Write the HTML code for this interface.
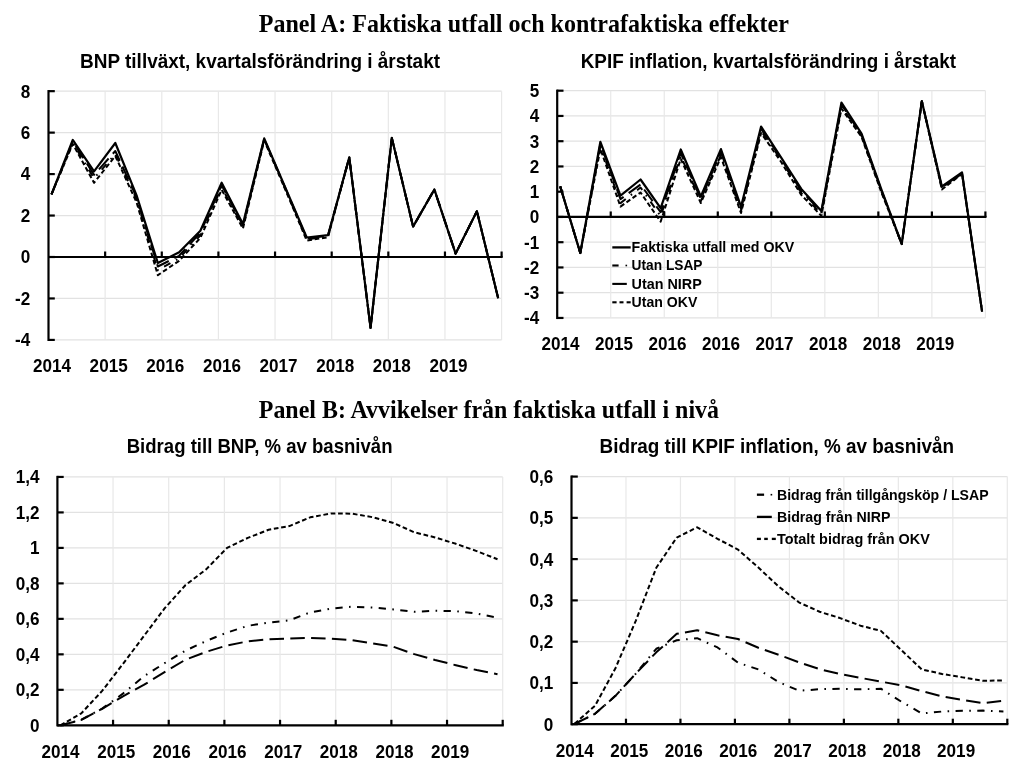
<!DOCTYPE html>
<html><head><meta charset="utf-8"><title>Panel A/B</title>
<style>
html,body{margin:0;padding:0;background:#fff;width:1024px;height:764px;overflow:hidden;}
svg{display:block;will-change:transform;}
text{font-family:"Liberation Sans",sans-serif;font-weight:bold;fill:#000;}
text.serif{font-family:"Liberation Serif",serif;}
</style></head>
<body>
<svg width="1024" height="764" viewBox="0 0 1024 764">
<rect width="1024" height="764" fill="#fff"/>
<line x1="48.5" y1="339.92" x2="501.6" y2="339.92" stroke="#e2e2e2" stroke-width="1.2"/>
<line x1="48.5" y1="298.46" x2="501.6" y2="298.46" stroke="#e2e2e2" stroke-width="1.2"/>
<line x1="48.5" y1="257" x2="501.6" y2="257" stroke="#e2e2e2" stroke-width="1.2"/>
<line x1="48.5" y1="215.54" x2="501.6" y2="215.54" stroke="#e2e2e2" stroke-width="1.2"/>
<line x1="48.5" y1="174.08" x2="501.6" y2="174.08" stroke="#e2e2e2" stroke-width="1.2"/>
<line x1="48.5" y1="132.62" x2="501.6" y2="132.62" stroke="#e2e2e2" stroke-width="1.2"/>
<line x1="48.5" y1="91.16" x2="501.6" y2="91.16" stroke="#e2e2e2" stroke-width="1.2"/>
<line x1="105.14" y1="91.16" x2="105.14" y2="339.92" stroke="#e8e8e8" stroke-width="1.2"/>
<line x1="161.78" y1="91.16" x2="161.78" y2="339.92" stroke="#e8e8e8" stroke-width="1.2"/>
<line x1="218.41" y1="91.16" x2="218.41" y2="339.92" stroke="#e8e8e8" stroke-width="1.2"/>
<line x1="275.05" y1="91.16" x2="275.05" y2="339.92" stroke="#e8e8e8" stroke-width="1.2"/>
<line x1="331.69" y1="91.16" x2="331.69" y2="339.92" stroke="#e8e8e8" stroke-width="1.2"/>
<line x1="388.33" y1="91.16" x2="388.33" y2="339.92" stroke="#e8e8e8" stroke-width="1.2"/>
<line x1="444.96" y1="91.16" x2="444.96" y2="339.92" stroke="#e8e8e8" stroke-width="1.2"/>
<line x1="501.6" y1="91.16" x2="501.6" y2="339.92" stroke="#e8e8e8" stroke-width="1.2"/>
<line x1="48.5" y1="90.06" x2="48.5" y2="341.02" stroke="#000" stroke-width="2.2"/>
<line x1="48.5" y1="339.92" x2="54.8" y2="339.92" stroke="#000" stroke-width="2.2"/>
<line x1="48.5" y1="298.46" x2="54.8" y2="298.46" stroke="#000" stroke-width="2.2"/>
<line x1="48.5" y1="257" x2="54.8" y2="257" stroke="#000" stroke-width="2.2"/>
<line x1="48.5" y1="215.54" x2="54.8" y2="215.54" stroke="#000" stroke-width="2.2"/>
<line x1="48.5" y1="174.08" x2="54.8" y2="174.08" stroke="#000" stroke-width="2.2"/>
<line x1="48.5" y1="132.62" x2="54.8" y2="132.62" stroke="#000" stroke-width="2.2"/>
<line x1="48.5" y1="91.16" x2="54.8" y2="91.16" stroke="#000" stroke-width="2.2"/>
<line x1="48.5" y1="257" x2="502.7" y2="257" stroke="#000" stroke-width="2.2"/>
<line x1="105.14" y1="257" x2="105.14" y2="251.5" stroke="#000" stroke-width="2.2"/>
<line x1="161.78" y1="257" x2="161.78" y2="251.5" stroke="#000" stroke-width="2.2"/>
<line x1="218.41" y1="257" x2="218.41" y2="251.5" stroke="#000" stroke-width="2.2"/>
<line x1="275.05" y1="257" x2="275.05" y2="251.5" stroke="#000" stroke-width="2.2"/>
<line x1="331.69" y1="257" x2="331.69" y2="251.5" stroke="#000" stroke-width="2.2"/>
<line x1="388.33" y1="257" x2="388.33" y2="251.5" stroke="#000" stroke-width="2.2"/>
<line x1="444.96" y1="257" x2="444.96" y2="251.5" stroke="#000" stroke-width="2.2"/>
<line x1="501.6" y1="257" x2="501.6" y2="251.5" stroke="#000" stroke-width="2.2"/>
<text transform="translate(30.2,346.32) scale(0.94,1)" font-size="18.2" text-anchor="end">-4</text>
<text transform="translate(30.2,304.86) scale(0.94,1)" font-size="18.2" text-anchor="end">-2</text>
<text transform="translate(30.2,263.4) scale(0.94,1)" font-size="18.2" text-anchor="end">0</text>
<text transform="translate(30.2,221.94) scale(0.94,1)" font-size="18.2" text-anchor="end">2</text>
<text transform="translate(30.2,180.48) scale(0.94,1)" font-size="18.2" text-anchor="end">4</text>
<text transform="translate(30.2,139.02) scale(0.94,1)" font-size="18.2" text-anchor="end">6</text>
<text transform="translate(30.2,97.56) scale(0.94,1)" font-size="18.2" text-anchor="end">8</text>
<text transform="translate(52,371.8) scale(0.94,1)" font-size="18.2" text-anchor="middle">2014</text>
<text transform="translate(108.64,371.8) scale(0.94,1)" font-size="18.2" text-anchor="middle">2015</text>
<text transform="translate(165.28,371.8) scale(0.94,1)" font-size="18.2" text-anchor="middle">2016</text>
<text transform="translate(221.91,371.8) scale(0.94,1)" font-size="18.2" text-anchor="middle">2016</text>
<text transform="translate(278.55,371.8) scale(0.94,1)" font-size="18.2" text-anchor="middle">2017</text>
<text transform="translate(335.19,371.8) scale(0.94,1)" font-size="18.2" text-anchor="middle">2018</text>
<text transform="translate(391.83,371.8) scale(0.94,1)" font-size="18.2" text-anchor="middle">2018</text>
<text transform="translate(448.46,371.8) scale(0.94,1)" font-size="18.2" text-anchor="middle">2019</text>
<path d="M51.5,194.3 L72.77,141.4 L94.04,174.8 L115.31,151 L136.58,197.4 L157.85,266.5 L179.12,255.8 L200.39,232.7 L221.66,185.2 L242.93,225.5 L264.2,138.9 L285.47,188.5 L306.74,238.5 L328.01,235.7 L349.28,157.4 L370.55,327.9 L391.82,137.9 L413.09,226.6 L434.36,189.5 L455.63,253.6 L476.9,211.2 L498.17,298.2" fill="none" stroke="#000" stroke-width="2" stroke-linejoin="round" stroke-dasharray="14.5,6.3"/>
<path d="M51.5,194.3 L72.77,142.9 L94.04,178.3 L115.31,154 L136.58,199.4 L157.85,270.2 L179.12,258.3 L200.39,235.3 L221.66,187.2 L242.93,227 L264.2,139.4 L285.47,189 L306.74,239.5 L328.01,236.2 L349.28,157.4 L370.55,327.9 L391.82,137.9 L413.09,226.6 L434.36,189.5 L455.63,253.6 L476.9,211.2 L498.17,298.2" fill="none" stroke="#000" stroke-width="2" stroke-linejoin="round" stroke-dasharray="7.3,6.4,1.6,6.4"/>
<path d="M51.5,194.3 L72.77,143.9 L94.04,182.8 L115.31,156 L136.58,202.4 L157.85,275.2 L179.12,260.8 L200.39,237.9 L221.66,189.7 L242.93,228.6 L264.2,140.4 L285.47,190 L306.74,240.5 L328.01,237.2 L349.28,157.4 L370.55,327.9 L391.82,137.9 L413.09,226.6 L434.36,189.5 L455.63,253.6 L476.9,211.2 L498.17,298.2" fill="none" stroke="#000" stroke-width="2" stroke-linejoin="round" stroke-dasharray="4.7,2.7"/>
<path d="M51.5,194.3 L72.77,139.9 L94.04,171.3 L115.31,143 L136.58,195.4 L157.85,263 L179.12,252.3 L200.39,230.7 L221.66,182.7 L242.93,224 L264.2,138.4 L285.47,188 L306.74,237.5 L328.01,235.2 L349.28,157.4 L370.55,327.9 L391.82,137.9 L413.09,226.6 L434.36,189.5 L455.63,253.6 L476.9,211.2 L498.17,298.2" fill="none" stroke="#000" stroke-width="2.2" stroke-linejoin="round"/>
<line x1="557.2" y1="317.95" x2="985.4" y2="317.95" stroke="#e2e2e2" stroke-width="1.2"/>
<line x1="557.2" y1="292.7" x2="985.4" y2="292.7" stroke="#e2e2e2" stroke-width="1.2"/>
<line x1="557.2" y1="267.45" x2="985.4" y2="267.45" stroke="#e2e2e2" stroke-width="1.2"/>
<line x1="557.2" y1="242.2" x2="985.4" y2="242.2" stroke="#e2e2e2" stroke-width="1.2"/>
<line x1="557.2" y1="216.95" x2="985.4" y2="216.95" stroke="#e2e2e2" stroke-width="1.2"/>
<line x1="557.2" y1="191.7" x2="985.4" y2="191.7" stroke="#e2e2e2" stroke-width="1.2"/>
<line x1="557.2" y1="166.45" x2="985.4" y2="166.45" stroke="#e2e2e2" stroke-width="1.2"/>
<line x1="557.2" y1="141.2" x2="985.4" y2="141.2" stroke="#e2e2e2" stroke-width="1.2"/>
<line x1="557.2" y1="115.95" x2="985.4" y2="115.95" stroke="#e2e2e2" stroke-width="1.2"/>
<line x1="557.2" y1="90.7" x2="985.4" y2="90.7" stroke="#e2e2e2" stroke-width="1.2"/>
<line x1="610.73" y1="90.7" x2="610.73" y2="317.95" stroke="#e8e8e8" stroke-width="1.2"/>
<line x1="664.25" y1="90.7" x2="664.25" y2="317.95" stroke="#e8e8e8" stroke-width="1.2"/>
<line x1="717.78" y1="90.7" x2="717.78" y2="317.95" stroke="#e8e8e8" stroke-width="1.2"/>
<line x1="771.3" y1="90.7" x2="771.3" y2="317.95" stroke="#e8e8e8" stroke-width="1.2"/>
<line x1="824.83" y1="90.7" x2="824.83" y2="317.95" stroke="#e8e8e8" stroke-width="1.2"/>
<line x1="878.35" y1="90.7" x2="878.35" y2="317.95" stroke="#e8e8e8" stroke-width="1.2"/>
<line x1="931.88" y1="90.7" x2="931.88" y2="317.95" stroke="#e8e8e8" stroke-width="1.2"/>
<line x1="985.4" y1="90.7" x2="985.4" y2="317.95" stroke="#e8e8e8" stroke-width="1.2"/>
<line x1="557.2" y1="89.6" x2="557.2" y2="319.05" stroke="#000" stroke-width="2.2"/>
<line x1="557.2" y1="317.95" x2="563.5" y2="317.95" stroke="#000" stroke-width="2.2"/>
<line x1="557.2" y1="292.7" x2="563.5" y2="292.7" stroke="#000" stroke-width="2.2"/>
<line x1="557.2" y1="267.45" x2="563.5" y2="267.45" stroke="#000" stroke-width="2.2"/>
<line x1="557.2" y1="242.2" x2="563.5" y2="242.2" stroke="#000" stroke-width="2.2"/>
<line x1="557.2" y1="216.95" x2="563.5" y2="216.95" stroke="#000" stroke-width="2.2"/>
<line x1="557.2" y1="191.7" x2="563.5" y2="191.7" stroke="#000" stroke-width="2.2"/>
<line x1="557.2" y1="166.45" x2="563.5" y2="166.45" stroke="#000" stroke-width="2.2"/>
<line x1="557.2" y1="141.2" x2="563.5" y2="141.2" stroke="#000" stroke-width="2.2"/>
<line x1="557.2" y1="115.95" x2="563.5" y2="115.95" stroke="#000" stroke-width="2.2"/>
<line x1="557.2" y1="90.7" x2="563.5" y2="90.7" stroke="#000" stroke-width="2.2"/>
<line x1="557.2" y1="216.95" x2="986.5" y2="216.95" stroke="#000" stroke-width="2.2"/>
<line x1="610.73" y1="216.95" x2="610.73" y2="211.45" stroke="#000" stroke-width="2.2"/>
<line x1="664.25" y1="216.95" x2="664.25" y2="211.45" stroke="#000" stroke-width="2.2"/>
<line x1="717.78" y1="216.95" x2="717.78" y2="211.45" stroke="#000" stroke-width="2.2"/>
<line x1="771.3" y1="216.95" x2="771.3" y2="211.45" stroke="#000" stroke-width="2.2"/>
<line x1="824.83" y1="216.95" x2="824.83" y2="211.45" stroke="#000" stroke-width="2.2"/>
<line x1="878.35" y1="216.95" x2="878.35" y2="211.45" stroke="#000" stroke-width="2.2"/>
<line x1="931.88" y1="216.95" x2="931.88" y2="211.45" stroke="#000" stroke-width="2.2"/>
<line x1="985.4" y1="216.95" x2="985.4" y2="211.45" stroke="#000" stroke-width="2.2"/>
<text transform="translate(539.2,324.35) scale(0.94,1)" font-size="18.2" text-anchor="end">-4</text>
<text transform="translate(539.2,299.1) scale(0.94,1)" font-size="18.2" text-anchor="end">-3</text>
<text transform="translate(539.2,273.85) scale(0.94,1)" font-size="18.2" text-anchor="end">-2</text>
<text transform="translate(539.2,248.6) scale(0.94,1)" font-size="18.2" text-anchor="end">-1</text>
<text transform="translate(539.2,223.35) scale(0.94,1)" font-size="18.2" text-anchor="end">0</text>
<text transform="translate(539.2,198.1) scale(0.94,1)" font-size="18.2" text-anchor="end">1</text>
<text transform="translate(539.2,172.85) scale(0.94,1)" font-size="18.2" text-anchor="end">2</text>
<text transform="translate(539.2,147.6) scale(0.94,1)" font-size="18.2" text-anchor="end">3</text>
<text transform="translate(539.2,122.35) scale(0.94,1)" font-size="18.2" text-anchor="end">4</text>
<text transform="translate(539.2,97.1) scale(0.94,1)" font-size="18.2" text-anchor="end">5</text>
<text transform="translate(560.5,350.2) scale(0.94,1)" font-size="18.2" text-anchor="middle">2014</text>
<text transform="translate(614.02,350.2) scale(0.94,1)" font-size="18.2" text-anchor="middle">2015</text>
<text transform="translate(667.55,350.2) scale(0.94,1)" font-size="18.2" text-anchor="middle">2016</text>
<text transform="translate(721.08,350.2) scale(0.94,1)" font-size="18.2" text-anchor="middle">2016</text>
<text transform="translate(774.6,350.2) scale(0.94,1)" font-size="18.2" text-anchor="middle">2017</text>
<text transform="translate(828.12,350.2) scale(0.94,1)" font-size="18.2" text-anchor="middle">2018</text>
<text transform="translate(881.65,350.2) scale(0.94,1)" font-size="18.2" text-anchor="middle">2018</text>
<text transform="translate(935.17,350.2) scale(0.94,1)" font-size="18.2" text-anchor="middle">2019</text>
<path d="M560.2,186.4 L580.29,253 L600.38,143.8 L620.47,199.1 L640.56,184.5 L660.65,212.2 L680.74,153 L700.83,199 L720.92,152.1 L741.01,209 L761.1,129 L781.19,159 L801.28,190.9 L821.37,211.9 L841.46,104.5 L861.55,135 L881.64,191 L901.73,244 L921.82,101.2 L941.91,187.5 L962,172.9 L982.09,311.7" fill="none" stroke="#000" stroke-width="2" stroke-linejoin="round" stroke-dasharray="14.5,6.3"/>
<path d="M560.2,186.4 L580.29,253 L600.38,145.8 L620.47,203.1 L640.56,187.5 L660.65,216.2 L680.74,156 L700.83,201 L720.92,155.1 L741.01,211 L761.1,131 L781.19,160 L801.28,192.9 L821.37,213.9 L841.46,106.5 L861.55,136 L881.64,192 L901.73,244 L921.82,101.2 L941.91,188.5 L962,173.4 L982.09,311.7" fill="none" stroke="#000" stroke-width="2" stroke-linejoin="round" stroke-dasharray="7.3,6.4,1.6,6.4"/>
<path d="M560.2,186.4 L580.29,253 L600.38,148.8 L620.47,206.6 L640.56,192.5 L660.65,221.7 L680.74,159 L700.83,203 L720.92,157.1 L741.01,213 L761.1,133 L781.19,162 L801.28,194.9 L821.37,215.9 L841.46,108.5 L861.55,137 L881.64,193 L901.73,244 L921.82,101.2 L941.91,189.5 L962,173.9 L982.09,311.7" fill="none" stroke="#000" stroke-width="2" stroke-linejoin="round" stroke-dasharray="4.7,2.7"/>
<path d="M560.2,186.4 L580.29,253 L600.38,141.8 L620.47,195.6 L640.56,179.5 L660.65,208.2 L680.74,149.5 L700.83,196.5 L720.92,149.1 L741.01,206.7 L761.1,126.5 L781.19,157.7 L801.28,188.9 L821.37,210.9 L841.46,102.5 L861.55,133.7 L881.64,190 L901.73,244 L921.82,101.2 L941.91,186.5 L962,172.4 L982.09,311.7" fill="none" stroke="#000" stroke-width="2.2" stroke-linejoin="round"/>
<line x1="612.3" y1="247.4" x2="630.7" y2="247.4" stroke="#000" stroke-width="2.3"/>
<text x="631.6" y="252" font-size="15" textLength="162.6" lengthAdjust="spacingAndGlyphs">Faktiska utfall med OKV</text>
<line x1="612.3" y1="265.5" x2="618.6" y2="265.5" stroke="#000" stroke-width="2.1"/>
<rect x="625.5" y="264.7" width="1.6" height="1.6" fill="#000"/>
<text x="631.6" y="270.1" font-size="15" textLength="70.9" lengthAdjust="spacingAndGlyphs">Utan LSAP</text>
<line x1="612.3" y1="283.9" x2="626.8" y2="283.9" stroke="#000" stroke-width="2.1"/>
<text x="631.6" y="288.5" font-size="15" textLength="70.2" lengthAdjust="spacingAndGlyphs">Utan NIRP</text>
<line x1="612.3" y1="302.3" x2="616.6" y2="302.3" stroke="#000" stroke-width="2.1"/>
<line x1="619.5" y1="302.3" x2="623.5" y2="302.3" stroke="#000" stroke-width="2.1"/>
<line x1="626.6" y1="302.3" x2="630.7" y2="302.3" stroke="#000" stroke-width="2.1"/>
<text x="631.6" y="306.9" font-size="15" textLength="65.8" lengthAdjust="spacingAndGlyphs">Utan OKV</text>
<line x1="57.4" y1="725.3" x2="502.7" y2="725.3" stroke="#e2e2e2" stroke-width="1.2"/>
<line x1="57.4" y1="689.82" x2="502.7" y2="689.82" stroke="#e2e2e2" stroke-width="1.2"/>
<line x1="57.4" y1="654.34" x2="502.7" y2="654.34" stroke="#e2e2e2" stroke-width="1.2"/>
<line x1="57.4" y1="618.86" x2="502.7" y2="618.86" stroke="#e2e2e2" stroke-width="1.2"/>
<line x1="57.4" y1="583.38" x2="502.7" y2="583.38" stroke="#e2e2e2" stroke-width="1.2"/>
<line x1="57.4" y1="547.9" x2="502.7" y2="547.9" stroke="#e2e2e2" stroke-width="1.2"/>
<line x1="57.4" y1="512.42" x2="502.7" y2="512.42" stroke="#e2e2e2" stroke-width="1.2"/>
<line x1="57.4" y1="476.94" x2="502.7" y2="476.94" stroke="#e2e2e2" stroke-width="1.2"/>
<line x1="113.06" y1="476.94" x2="113.06" y2="725.3" stroke="#e8e8e8" stroke-width="1.2"/>
<line x1="168.72" y1="476.94" x2="168.72" y2="725.3" stroke="#e8e8e8" stroke-width="1.2"/>
<line x1="224.39" y1="476.94" x2="224.39" y2="725.3" stroke="#e8e8e8" stroke-width="1.2"/>
<line x1="280.05" y1="476.94" x2="280.05" y2="725.3" stroke="#e8e8e8" stroke-width="1.2"/>
<line x1="335.71" y1="476.94" x2="335.71" y2="725.3" stroke="#e8e8e8" stroke-width="1.2"/>
<line x1="391.38" y1="476.94" x2="391.38" y2="725.3" stroke="#e8e8e8" stroke-width="1.2"/>
<line x1="447.04" y1="476.94" x2="447.04" y2="725.3" stroke="#e8e8e8" stroke-width="1.2"/>
<line x1="502.7" y1="476.94" x2="502.7" y2="725.3" stroke="#e8e8e8" stroke-width="1.2"/>
<line x1="57.4" y1="475.84" x2="57.4" y2="726.4" stroke="#000" stroke-width="2.2"/>
<line x1="57.4" y1="725.3" x2="63.7" y2="725.3" stroke="#000" stroke-width="2.2"/>
<line x1="57.4" y1="689.82" x2="63.7" y2="689.82" stroke="#000" stroke-width="2.2"/>
<line x1="57.4" y1="654.34" x2="63.7" y2="654.34" stroke="#000" stroke-width="2.2"/>
<line x1="57.4" y1="618.86" x2="63.7" y2="618.86" stroke="#000" stroke-width="2.2"/>
<line x1="57.4" y1="583.38" x2="63.7" y2="583.38" stroke="#000" stroke-width="2.2"/>
<line x1="57.4" y1="547.9" x2="63.7" y2="547.9" stroke="#000" stroke-width="2.2"/>
<line x1="57.4" y1="512.42" x2="63.7" y2="512.42" stroke="#000" stroke-width="2.2"/>
<line x1="57.4" y1="476.94" x2="63.7" y2="476.94" stroke="#000" stroke-width="2.2"/>
<line x1="57.4" y1="725.3" x2="503.8" y2="725.3" stroke="#000" stroke-width="2.2"/>
<line x1="113.06" y1="725.3" x2="113.06" y2="719.8" stroke="#000" stroke-width="2.2"/>
<line x1="168.72" y1="725.3" x2="168.72" y2="719.8" stroke="#000" stroke-width="2.2"/>
<line x1="224.39" y1="725.3" x2="224.39" y2="719.8" stroke="#000" stroke-width="2.2"/>
<line x1="280.05" y1="725.3" x2="280.05" y2="719.8" stroke="#000" stroke-width="2.2"/>
<line x1="335.71" y1="725.3" x2="335.71" y2="719.8" stroke="#000" stroke-width="2.2"/>
<line x1="391.38" y1="725.3" x2="391.38" y2="719.8" stroke="#000" stroke-width="2.2"/>
<line x1="447.04" y1="725.3" x2="447.04" y2="719.8" stroke="#000" stroke-width="2.2"/>
<line x1="502.7" y1="725.3" x2="502.7" y2="719.8" stroke="#000" stroke-width="2.2"/>
<text transform="translate(39.6,731.7) scale(0.94,1)" font-size="18.2" text-anchor="end">0</text>
<text transform="translate(39.6,696.22) scale(0.94,1)" font-size="18.2" text-anchor="end">0,2</text>
<text transform="translate(39.6,660.74) scale(0.94,1)" font-size="18.2" text-anchor="end">0,4</text>
<text transform="translate(39.6,625.26) scale(0.94,1)" font-size="18.2" text-anchor="end">0,6</text>
<text transform="translate(39.6,589.78) scale(0.94,1)" font-size="18.2" text-anchor="end">0,8</text>
<text transform="translate(39.6,554.3) scale(0.94,1)" font-size="18.2" text-anchor="end">1</text>
<text transform="translate(39.6,518.82) scale(0.94,1)" font-size="18.2" text-anchor="end">1,2</text>
<text transform="translate(39.6,483.34) scale(0.94,1)" font-size="18.2" text-anchor="end">1,4</text>
<text transform="translate(60.5,757.6) scale(0.94,1)" font-size="18.2" text-anchor="middle">2014</text>
<text transform="translate(116.16,757.6) scale(0.94,1)" font-size="18.2" text-anchor="middle">2015</text>
<text transform="translate(171.82,757.6) scale(0.94,1)" font-size="18.2" text-anchor="middle">2016</text>
<text transform="translate(227.49,757.6) scale(0.94,1)" font-size="18.2" text-anchor="middle">2016</text>
<text transform="translate(283.15,757.6) scale(0.94,1)" font-size="18.2" text-anchor="middle">2017</text>
<text transform="translate(338.81,757.6) scale(0.94,1)" font-size="18.2" text-anchor="middle">2018</text>
<text transform="translate(394.48,757.6) scale(0.94,1)" font-size="18.2" text-anchor="middle">2018</text>
<text transform="translate(450.14,757.6) scale(0.94,1)" font-size="18.2" text-anchor="middle">2019</text>
<path d="M60.5,725.3 L81.31,719.76 L102.12,708.65 L122.93,693.62 L143.74,676.42 L164.55,663.18 L185.36,650.71 L206.17,640.99 L226.98,632.58 L247.79,625.82 L268.6,622.61 L289.41,620.35 L310.22,612.37 L331.03,608.62 L351.84,606.76 L372.65,607.48 L393.46,609.47 L414.27,611.74 L435.08,610.8 L455.89,611.22 L476.7,613.55 L497.51,617.62" fill="none" stroke="#000" stroke-width="2" stroke-linejoin="round" stroke-dasharray="7.3,6.4,1.6,6.4"/>
<path d="M60.5,725.3 L81.31,719.94 L102.12,708.83 L122.93,696.38 L143.74,684.96 L164.55,672.13 L185.36,659.75 L206.17,651.87 L226.98,645.47 L247.79,641.33 L268.6,639.22 L289.41,638.42 L310.22,637.98 L331.03,638.75 L351.84,640.17 L372.65,643.35 L393.46,646.77 L414.27,654.15 L435.08,659.96 L455.89,665.25 L476.7,670.07 L497.51,674.3" fill="none" stroke="#000" stroke-width="2" stroke-linejoin="round" stroke-dasharray="14.5,6.3"/>
<path d="M60.5,725.3 L81.31,713.31 L102.12,690.94 L122.93,663.94 L143.74,636.23 L164.55,608.45 L185.36,585.21 L206.17,569.34 L226.98,547.94 L247.79,537.92 L268.6,529.78 L289.41,526.09 L310.22,517.32 L331.03,513.48 L351.84,513.64 L372.65,517.24 L393.46,523 L414.27,532.27 L435.08,537.41 L455.89,543.83 L476.7,551.09 L497.51,559.25" fill="none" stroke="#000" stroke-width="2" stroke-linejoin="round" stroke-dasharray="4.7,2.7"/>
<line x1="571.5" y1="724.2" x2="1007.3" y2="724.2" stroke="#e2e2e2" stroke-width="1.2"/>
<line x1="571.5" y1="682.93" x2="1007.3" y2="682.93" stroke="#e2e2e2" stroke-width="1.2"/>
<line x1="571.5" y1="641.66" x2="1007.3" y2="641.66" stroke="#e2e2e2" stroke-width="1.2"/>
<line x1="571.5" y1="600.39" x2="1007.3" y2="600.39" stroke="#e2e2e2" stroke-width="1.2"/>
<line x1="571.5" y1="559.12" x2="1007.3" y2="559.12" stroke="#e2e2e2" stroke-width="1.2"/>
<line x1="571.5" y1="517.85" x2="1007.3" y2="517.85" stroke="#e2e2e2" stroke-width="1.2"/>
<line x1="571.5" y1="476.58" x2="1007.3" y2="476.58" stroke="#e2e2e2" stroke-width="1.2"/>
<line x1="625.98" y1="476.58" x2="625.98" y2="724.2" stroke="#e8e8e8" stroke-width="1.2"/>
<line x1="680.45" y1="476.58" x2="680.45" y2="724.2" stroke="#e8e8e8" stroke-width="1.2"/>
<line x1="734.92" y1="476.58" x2="734.92" y2="724.2" stroke="#e8e8e8" stroke-width="1.2"/>
<line x1="789.4" y1="476.58" x2="789.4" y2="724.2" stroke="#e8e8e8" stroke-width="1.2"/>
<line x1="843.88" y1="476.58" x2="843.88" y2="724.2" stroke="#e8e8e8" stroke-width="1.2"/>
<line x1="898.35" y1="476.58" x2="898.35" y2="724.2" stroke="#e8e8e8" stroke-width="1.2"/>
<line x1="952.82" y1="476.58" x2="952.82" y2="724.2" stroke="#e8e8e8" stroke-width="1.2"/>
<line x1="1007.3" y1="476.58" x2="1007.3" y2="724.2" stroke="#e8e8e8" stroke-width="1.2"/>
<line x1="571.5" y1="475.48" x2="571.5" y2="725.3" stroke="#000" stroke-width="2.2"/>
<line x1="571.5" y1="724.2" x2="577.8" y2="724.2" stroke="#000" stroke-width="2.2"/>
<line x1="571.5" y1="682.93" x2="577.8" y2="682.93" stroke="#000" stroke-width="2.2"/>
<line x1="571.5" y1="641.66" x2="577.8" y2="641.66" stroke="#000" stroke-width="2.2"/>
<line x1="571.5" y1="600.39" x2="577.8" y2="600.39" stroke="#000" stroke-width="2.2"/>
<line x1="571.5" y1="559.12" x2="577.8" y2="559.12" stroke="#000" stroke-width="2.2"/>
<line x1="571.5" y1="517.85" x2="577.8" y2="517.85" stroke="#000" stroke-width="2.2"/>
<line x1="571.5" y1="476.58" x2="577.8" y2="476.58" stroke="#000" stroke-width="2.2"/>
<line x1="571.5" y1="724.2" x2="1008.4" y2="724.2" stroke="#000" stroke-width="2.2"/>
<line x1="625.98" y1="724.2" x2="625.98" y2="718.7" stroke="#000" stroke-width="2.2"/>
<line x1="680.45" y1="724.2" x2="680.45" y2="718.7" stroke="#000" stroke-width="2.2"/>
<line x1="734.92" y1="724.2" x2="734.92" y2="718.7" stroke="#000" stroke-width="2.2"/>
<line x1="789.4" y1="724.2" x2="789.4" y2="718.7" stroke="#000" stroke-width="2.2"/>
<line x1="843.88" y1="724.2" x2="843.88" y2="718.7" stroke="#000" stroke-width="2.2"/>
<line x1="898.35" y1="724.2" x2="898.35" y2="718.7" stroke="#000" stroke-width="2.2"/>
<line x1="952.82" y1="724.2" x2="952.82" y2="718.7" stroke="#000" stroke-width="2.2"/>
<line x1="1007.3" y1="724.2" x2="1007.3" y2="718.7" stroke="#000" stroke-width="2.2"/>
<text transform="translate(553.3,730.6) scale(0.94,1)" font-size="18.2" text-anchor="end">0</text>
<text transform="translate(553.3,689.33) scale(0.94,1)" font-size="18.2" text-anchor="end">0,1</text>
<text transform="translate(553.3,648.06) scale(0.94,1)" font-size="18.2" text-anchor="end">0,2</text>
<text transform="translate(553.3,606.79) scale(0.94,1)" font-size="18.2" text-anchor="end">0,3</text>
<text transform="translate(553.3,565.52) scale(0.94,1)" font-size="18.2" text-anchor="end">0,4</text>
<text transform="translate(553.3,524.25) scale(0.94,1)" font-size="18.2" text-anchor="end">0,5</text>
<text transform="translate(553.3,482.98) scale(0.94,1)" font-size="18.2" text-anchor="end">0,6</text>
<text transform="translate(574.8,757.1) scale(0.94,1)" font-size="18.2" text-anchor="middle">2014</text>
<text transform="translate(629.27,757.1) scale(0.94,1)" font-size="18.2" text-anchor="middle">2015</text>
<text transform="translate(683.75,757.1) scale(0.94,1)" font-size="18.2" text-anchor="middle">2016</text>
<text transform="translate(738.22,757.1) scale(0.94,1)" font-size="18.2" text-anchor="middle">2016</text>
<text transform="translate(792.7,757.1) scale(0.94,1)" font-size="18.2" text-anchor="middle">2017</text>
<text transform="translate(847.17,757.1) scale(0.94,1)" font-size="18.2" text-anchor="middle">2018</text>
<text transform="translate(901.65,757.1) scale(0.94,1)" font-size="18.2" text-anchor="middle">2018</text>
<text transform="translate(956.12,757.1) scale(0.94,1)" font-size="18.2" text-anchor="middle">2019</text>
<path d="M574.6,723.9 L595.02,713.86 L615.44,695.82 L635.86,673.6 L656.28,648.76 L676.7,640.24 L697.12,638.21 L717.54,647.44 L737.96,662.63 L758.38,669.43 L778.8,682.15 L799.22,690.75 L819.64,689.22 L840.06,688.74 L860.48,689.35 L880.9,688.72 L901.32,701.64 L921.74,713.42 L942.16,711.53 L962.58,710.82 L983,710.59 L1003.42,711.4" fill="none" stroke="#000" stroke-width="2" stroke-linejoin="round" stroke-dasharray="7.3,6.4,1.6,6.4"/>
<path d="M574.6,723.9 L595.02,713.86 L615.44,695.82 L635.86,673.6 L656.28,652.32 L676.7,633.84 L697.12,630.26 L717.54,635.32 L737.96,638.96 L758.38,647.78 L778.8,654.83 L799.22,662.38 L819.64,669.19 L840.06,673.99 L860.48,677.85 L880.9,681.64 L901.32,685.25 L921.74,691.12 L942.16,696.34 L962.58,700 L983,703.08 L1003.42,700.69" fill="none" stroke="#000" stroke-width="2" stroke-linejoin="round" stroke-dasharray="14.5,6.3"/>
<path d="M574.6,723.76 L595.02,705.76 L615.44,668.25 L635.86,620.61 L656.28,567.79 L676.7,537.62 L697.12,527.27 L717.54,538.82 L737.96,549.56 L758.38,567.57 L778.8,586.6 L799.22,602.55 L819.64,611.75 L840.06,618.08 L860.48,625.68 L880.9,630.86 L901.32,650.09 L921.74,669.43 L942.16,673.97 L962.58,677.37 L983,680.78 L1003.42,680.46" fill="none" stroke="#000" stroke-width="2" stroke-linejoin="round" stroke-dasharray="4.7,2.7"/>
<line x1="756.9" y1="494.7" x2="764.1" y2="494.7" stroke="#000" stroke-width="2.3"/>
<rect x="770.6" y="493.9" width="1.6" height="1.6" fill="#000"/>
<text x="777" y="499.7" font-size="14.6" textLength="211.6" lengthAdjust="spacingAndGlyphs">Bidrag från tillgångsköp / LSAP</text>
<line x1="756.9" y1="516.9" x2="771.8" y2="516.9" stroke="#000" stroke-width="2.3"/>
<text x="777" y="522.1" font-size="14.6" textLength="113.4" lengthAdjust="spacingAndGlyphs">Bidrag från NIRP</text>
<line x1="756.9" y1="538.9" x2="760.9" y2="538.9" stroke="#000" stroke-width="2.3"/>
<line x1="764.2" y1="538.9" x2="767.8" y2="538.9" stroke="#000" stroke-width="2.3"/>
<line x1="771.8" y1="538.9" x2="775.8" y2="538.9" stroke="#000" stroke-width="2.3"/>
<text x="776.9" y="544.2" font-size="14.6" textLength="152.9" lengthAdjust="spacingAndGlyphs">Totalt bidrag från OKV</text>
<text transform="translate(258.75,32) scale(1,1.03)" font-size="24" class="serif" textLength="530.2" lengthAdjust="spacingAndGlyphs">Panel A: Faktiska utfall och kontrafaktiska effekter</text>
<text transform="translate(258.75,417.7) scale(1,1.03)" font-size="24" class="serif" textLength="460.25" lengthAdjust="spacingAndGlyphs">Panel B: Avvikelser från faktiska utfall i nivå</text>
<text x="80.1" y="67.9" font-size="20.5" textLength="359.9" lengthAdjust="spacingAndGlyphs">BNP tillväxt, kvartalsförändring i årstakt</text>
<text x="580.7" y="67.9" font-size="20.5" textLength="375.3" lengthAdjust="spacingAndGlyphs">KPIF inflation, kvartalsförändring i årstakt</text>
<text x="126.7" y="453.3" font-size="20.5" textLength="265.8" lengthAdjust="spacingAndGlyphs">Bidrag till BNP, % av basnivån</text>
<text x="599.5" y="453.3" font-size="20.5" textLength="354.6" lengthAdjust="spacingAndGlyphs">Bidrag till KPIF inflation, % av basnivån</text>
</svg>
</body></html>
